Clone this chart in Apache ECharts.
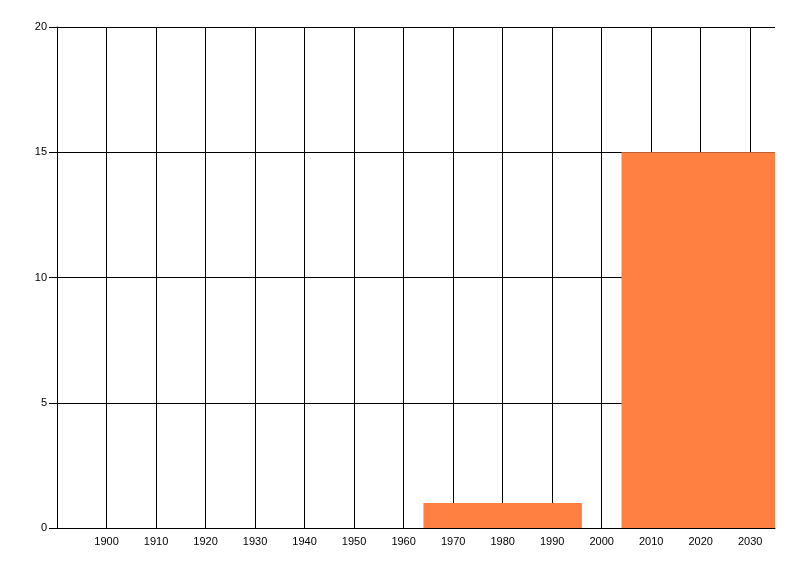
<!DOCTYPE html>
<html>
<head>
<meta charset="utf-8">
<script src="https://cdn.jsdelivr.net/npm/echarts@6/dist/echarts.min.js"></script>
<style>html,body{margin:0;padding:0;background:#fff}#c{width:800px;height:576px}</style>
</head>
<body>
<div id="c"></div>
<script>
// Bars: start year, end year, value
var barStarts = [1964, 2004];
var barEnds = [1996, 2036];
var barValues = [1, 15];
var xMin = 1890, xMax = 2035, xInterval = 10;
var yMin = 0, yMax = 20, yInterval = 5;

var data = barStarts.map(function (s, i) { return [s, barEnds[i], barValues[i]]; });

var chart = echarts.init(document.getElementById('c'), null, {renderer: 'canvas'});
var font = 'Liberation Sans';
chart.setOption({
  animation: false,
  backgroundColor: '#fff',
  grid: {left: 57, right: 25, top: 27, bottom: 48, containLabel: false},
  xAxis: {
    type: 'value', min: xMin, max: xMax, interval: xInterval,
    axisLine: {show: true, lineStyle: {color: '#000', width: 1}},
    axisTick: {show: false},
    axisLabel: {show: true, color: '#000', fontFamily: font, fontSize: 11, margin: 8,
      showMinLabel: false, showMaxLabel: false,
      formatter: function (v) { return String(v); }},
    splitLine: {show: true, showMaxLine: false, lineStyle: {color: '#000', width: 1}}
  },
  yAxis: {
    type: 'value', min: yMin, max: yMax, interval: yInterval,
    axisLine: {show: true, lineStyle: {color: '#000', width: 1}},
    axisTick: {show: true, length: 8, lineStyle: {color: '#000'}},
    axisLabel: {color: '#000', fontFamily: font, fontSize: 11, margin: 10},
    splitLine: {show: true, lineStyle: {color: '#000', width: 1}}
  },
  series: [{
    type: 'custom',
    clip: true,
    data: data,
    encode: {x: [0, 1], y: 2},
    renderItem: function (params, api) {
      var p0 = api.coord([api.value(0), api.value(2)]);
      var p1 = api.coord([api.value(1), 0]);
      var rect = echarts.graphic.clipRectByRect({
        x: p0[0], y: p0[1], width: p1[0] - p0[0], height: p1[1] - p0[1]
      }, {
        x: params.coordSys.x, y: params.coordSys.y,
        width: params.coordSys.width, height: params.coordSys.height
      });
      return rect && {type: 'rect', shape: rect, style: {fill: '#FF8040'}};
    }
  }]
});
</script>
</body>
</html>
